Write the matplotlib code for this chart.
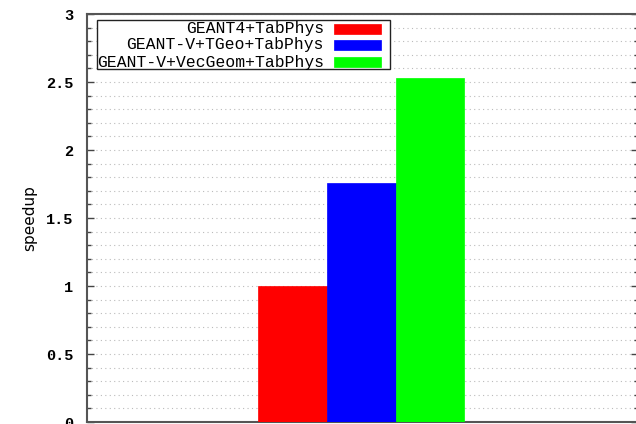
import matplotlib
matplotlib.use("Agg")
import matplotlib.pyplot as plt
from matplotlib.patches import Rectangle
from matplotlib.ticker import MultipleLocator
import numpy as np

series = ["GEANT4+TabPhys", "GEANT-V+TGeo+TabPhys", "GEANT-V+VecGeom+TabPhys"]
speedup = [1.0, 1.755, 2.53]
colors = ["#ff0000", "#0000ff", "#00ff00"]
ytick_labels = ["0", "0.5", "1", "1.5", "2", "2.5", "3"]

W, H = 636, 424
fig = plt.figure(figsize=(W / 100, H / 100), dpi=100)
ax = fig.add_axes([87 / W, (H - 422) / H, (638 - 87) / W, (422 - 14) / H])

bw = 0.2
offsets = (np.arange(len(series)) - 1) * bw
for off, v, c in zip(offsets, speedup, colors):
    ax.bar(off, v, width=bw, color=c, edgecolor=c, linewidth=0.5, zorder=3)

ax.set_xlim(-0.796, 0.804)
ax.set_ylim(0, 3)
ax.set_xticks([])
ax.yaxis.set_major_locator(MultipleLocator(0.5))
ax.yaxis.set_minor_locator(MultipleLocator(0.1))
ax.set_yticks(np.arange(0, 3.01, 0.5))
ax.set_yticklabels(ytick_labels, family="Liberation Mono", fontsize=11, fontweight="bold")
ax.tick_params(axis="y", which="major", direction="in", length=5, width=1,
               color="#444444", right=True, pad=10)
ax.tick_params(axis="y", which="minor", direction="in", length=3, width=1,
               color="#444444", right=True)
ax.grid(axis="y", which="both", linestyle=(0, (1, 3)), color="#bbbbbb", linewidth=0.8, zorder=0)
for s in ax.spines.values():
    s.set_color("#555555")
    s.set_linewidth(1.5)

ax.set_ylabel("speedup", fontsize=11, family="DejaVu Sans", labelpad=6)

# manual legend (text right-aligned, sample box to the right)
def ax_frac(px, py):
    return ((px - 87) / (638 - 87), (422 - py) / (422 - 14))

x0, y0 = ax_frac(97, 69)
x1, y1 = ax_frac(390, 20)
ax.add_patch(Rectangle((x0, y0), x1 - x0, y1 - y0, transform=ax.transAxes,
                       facecolor="white", edgecolor="#222222", linewidth=1.0, zorder=5))
rows_y = [29, 45, 62]
for lab, c, py in zip(series, colors, rows_y):
    tx, ty = ax_frac(324, py)
    ax.text(tx, ty, lab, transform=ax.transAxes, ha="right", va="center",
            family="Liberation Mono", fontsize=11.8, zorder=6)
    bx0, by0 = ax_frac(334, py + 5)
    bx1, by1 = ax_frac(381, py - 5)
    ax.add_patch(Rectangle((bx0, by0), bx1 - bx0, by1 - by0, transform=ax.transAxes,
                           facecolor=c, edgecolor=c, linewidth=0.5, zorder=6))

fig.savefig("out.png", dpi=100)
